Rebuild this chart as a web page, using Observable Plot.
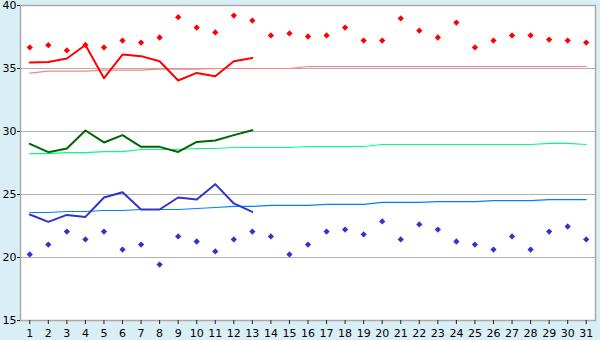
<!DOCTYPE html>
<html>
<head>
<meta charset="utf-8">
<script src="https://cdn.jsdelivr.net/npm/d3@7"></script>
<script src="https://cdn.jsdelivr.net/npm/@observablehq/plot@0.6"></script>
<style>
  html, body { margin: 0; padding: 0; background: #daeef5; }
</style>
</head>
<body>
<div id="chart"></div>
<script>
const days = [1,2,3,4,5,6,7,8,9,10,11,12,13,14,15,16,17,18,19,20,21,22,23,24,25,26,27,28,29,30,31];
const yTicks = [15,20,25,30,35,40];

const maxDots = [36.67,36.85,36.43,36.87,36.67,37.22,37.06,37.46,39.07,38.25,37.86,39.2,38.8,37.62,37.78,37.54,37.62,38.25,37.22,37.22,38.97,38.0,37.46,38.65,36.67,37.22,37.62,37.62,37.3,37.22,37.06];
const minDots = [20.24,21.03,22.06,21.43,22.06,20.63,21.03,19.44,21.67,21.27,20.48,21.43,22.06,21.67,20.24,21.03,22.06,22.22,21.83,22.86,21.43,22.62,22.22,21.27,21.03,20.63,21.67,20.63,22.06,22.46,21.43];

const redLine = [35.48,35.52,35.79,36.87,34.23,36.11,35.98,35.58,34.05,34.65,34.39,35.58,35.84];
const greenLine = [29.02,28.36,28.65,30.08,29.13,29.71,28.78,28.78,28.38,29.17,29.29,29.71,30.1];
const blueLine = [23.41,22.83,23.38,23.22,24.76,25.18,23.81,23.81,24.76,24.6,25.82,24.29,23.62];

const redTrend = [34.63,34.79,34.79,34.79,34.87,34.87,34.87,34.95,34.95,34.95,35.0,35.0,35.0,35.0,35.0,35.16,35.16,35.16,35.16,35.16,35.16,35.16,35.16,35.16,35.16,35.16,35.16,35.16,35.16,35.16,35.16];
const greenTrend = [28.25,28.25,28.33,28.33,28.4,28.4,28.57,28.57,28.57,28.65,28.65,28.73,28.73,28.73,28.73,28.81,28.81,28.81,28.81,28.97,28.97,28.97,28.97,28.97,28.97,28.97,28.97,28.97,29.05,29.05,28.97];
const blueTrend = [23.57,23.57,23.65,23.65,23.73,23.73,23.81,23.81,23.81,23.89,23.97,24.05,24.05,24.13,24.13,24.13,24.21,24.21,24.21,24.37,24.37,24.37,24.44,24.44,24.44,24.52,24.52,24.52,24.6,24.6,24.6];

const gridValues = [20,25,30,35];

const rows = (arr) => arr.map((v, i) => ({day: days[i], value: v}));

const chart = Plot.plot({
  width: 600,
  height: 340,
  marginLeft: 20,
  marginRight: 5,
  marginTop: 5,
  marginBottom: 20,
  style: {background: "#daeef5", fontFamily: "DejaVu Sans, Verdana, sans-serif", fontSize: "11px", color: "black"},
  x: {domain: [0.5, 31.5]},
  y: {domain: [15, 40]},
  marks: [
    Plot.frame({fill: "white", stroke: null}),
    Plot.ruleY(gridValues, {stroke: "#b0b0b0", strokeWidth: 1}),
    Plot.line(rows(redTrend), {x: "day", y: "value", stroke: "#ff8080", strokeWidth: 1.2}),
    Plot.line(rows(greenTrend), {x: "day", y: "value", stroke: "#00ff80", strokeWidth: 1.2}),
    Plot.line(rows(blueTrend), {x: "day", y: "value", stroke: "#0080ff", strokeWidth: 1.2}),
    Plot.line(rows(redLine), {x: "day", y: "value", stroke: "#ff0000", strokeWidth: 2}),
    Plot.line(rows(greenLine), {x: "day", y: "value", stroke: "#006600", strokeWidth: 2}),
    Plot.line(rows(blueLine), {x: "day", y: "value", stroke: "#3333cc", strokeWidth: 2}),
    Plot.dot(rows(maxDots), {x: "day", y: "value", symbol: "square", rotate: 45, r: 2.5, fill: "#ff0000", stroke: null}),
    Plot.dot(rows(minDots), {x: "day", y: "value", symbol: "square", rotate: 45, r: 2.5, fill: "#3333cc", stroke: null}),
    Plot.frame({stroke: "#aaaaaa", strokeWidth: 1.5}),
    Plot.axisY({ticks: yTicks, tickSize: 3, tickPadding: 1, stroke: "#222", fill: "black", label: null}),
    Plot.axisX({ticks: days, tickSize: 4, tickPadding: 5, tickFormat: d => String(d), stroke: "#222", fill: "black", label: null})
  ]
});
document.getElementById("chart").appendChild(chart);
</script>
</body>
</html>
